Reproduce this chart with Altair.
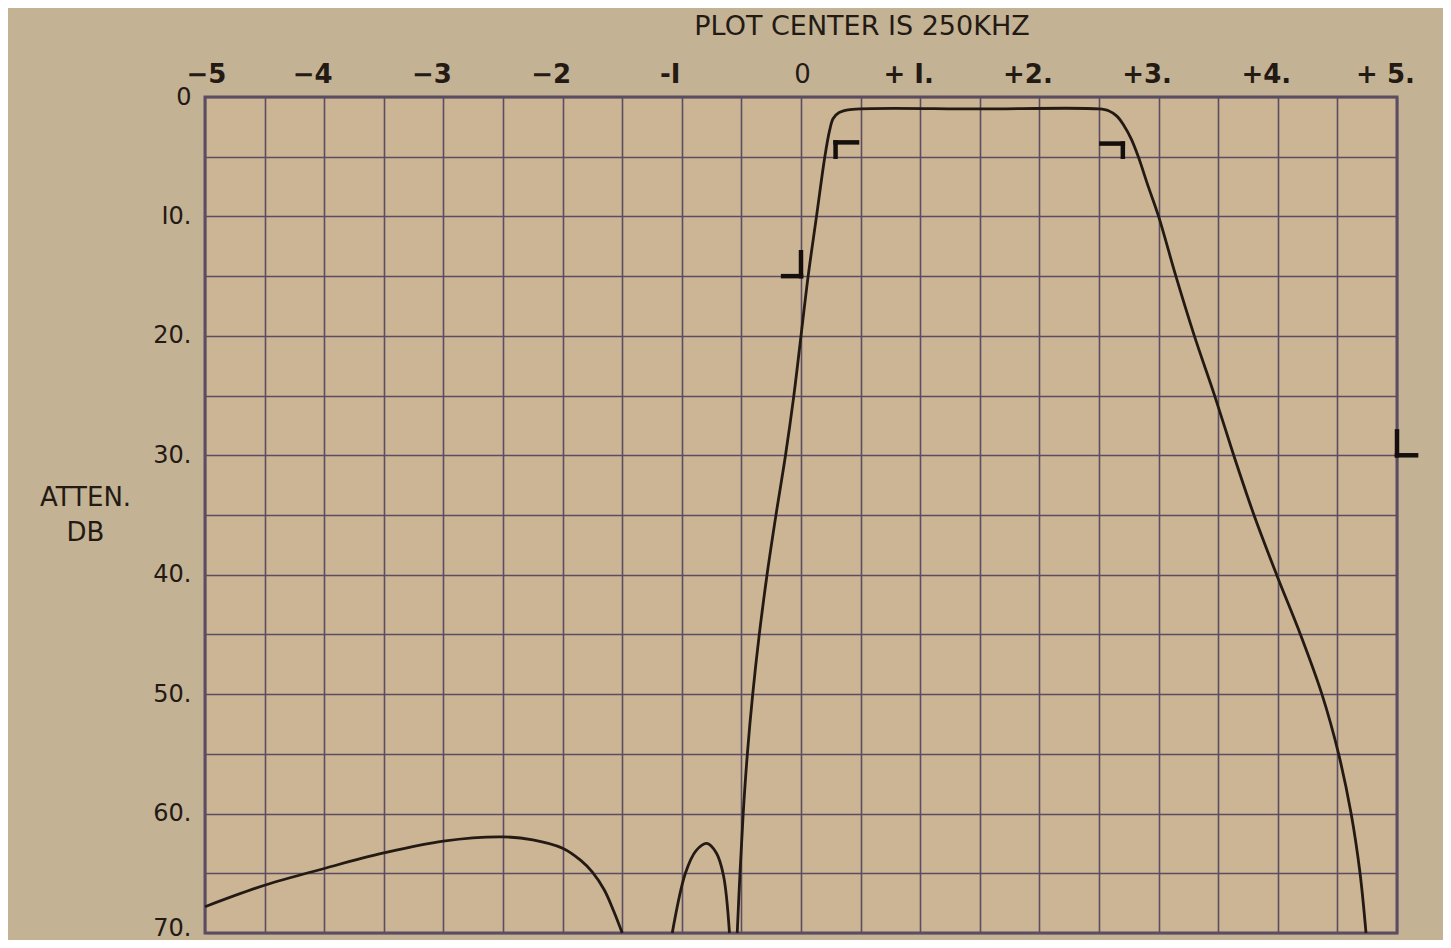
import altair as alt
import pandas as pd

# ---- data ----
# main passband response (offset kHz, attenuation dB)
main_x = [-0.535, -0.512, -0.485, -0.45, -0.405, -0.35, -0.285, -0.21, -0.13, -0.06, 0.0, 0.06,
          0.13, 0.20, 0.24, 0.27, 0.32, 0.41, 1.50, 2.50, 2.58, 2.65, 2.71, 2.77, 2.83, 2.91,
          3.00, 3.145, 3.30, 3.47, 3.63, 3.80, 3.99, 4.19, 4.37, 4.51, 4.615, 4.69, 4.74]
main_db = [70, 65, 60, 55, 50, 45, 40, 35, 30, 25, 20, 15,
           10, 5, 2.8, 1.8, 1.3, 1.05, 1.0, 1.0, 1.15, 1.6, 2.4, 3.5, 5.0, 7.4,
           10, 15, 20, 25, 30, 35, 40, 45, 50, 55, 60, 65, 70]

# far lower sidelobe
lobe1_x = [-5.0, -4.5, -4.0, -3.5, -3.0, -2.5, -2.25, -2.0, -1.85, -1.75, -1.65, -1.57, -1.5]
lobe1_db = [67.8, 66.0, 64.6, 63.3, 62.3, 61.95, 62.2, 62.9, 63.9, 64.9, 66.4, 68.2, 70]

# near lower sidelobe
lobe2_x = [-1.08, -0.97, -0.88, -0.79, -0.71, -0.65, -0.60]
lobe2_db = [70, 65, 63.1, 62.5, 63.3, 65.2, 70]

# specification marks (segments)
mk_x = [0.29, 0.29, 2.52, 2.70, 0.00, -0.15, 5.00, 5.00]
mk_x2 = [0.29, 0.47, 2.70, 2.70, 0.00, 0.00, 5.00, 5.16]
mk_y = [5.0, 3.8, 3.9, 3.9, 13.0, 15.0, 28.0, 30.0]
mk_y2 = [3.8, 3.8, 3.9, 5.0, 15.0, 15.0, 30.0, 30.0]

# axes
x_grid = [-5.0, -4.5, -4.0, -3.5, -3.0, -2.5, -2.0, -1.5, -1.0, -0.5, 0.0,
          0.5, 1.0, 1.5, 2.0, 2.5, 3.0, 3.5, 4.0, 4.5, 5.0]
x_label_vals = [-5, -4, -3, -2, -1, 0, 1, 2, 3, 4, 5]
x_label_text = ["\u22125", "\u22124", "\u22123", "\u22122", "-I", "0", "+ I.", "+2.", "+3.", "+4.", "+ 5."]
y_grid = [0, 5, 10, 15, 20, 25, 30, 35, 40, 45, 50, 55, 60, 65, 70]
y_label_vals = [0, 10, 20, 30, 40, 50, 60, 70]
y_label_text = ["0", "I0.", "20.", "30.", "40.", "50.", "60.", "70."]

title_text = "PLOT CENTER IS 250KHZ"
y_title = ["ATTEN.", "DB"]


def label_expr(vals, texts):
    expr = "''"
    for v, t in reversed(list(zip(vals, texts))):
        expr = f"(datum.value == {v} ? '{t}' : {expr})"
    return expr


rows = []
for seg, xs, ys in [("main", main_x, main_db), ("lobe1", lobe1_x, lobe1_db), ("lobe2", lobe2_x, lobe2_db)]:
    for i, (a, b) in enumerate(zip(xs, ys)):
        rows.append({"seg": seg, "i": i, "x": a, "db": b})
curve = pd.DataFrame(rows)
marks = pd.DataFrame({"x": mk_x, "x2": mk_x2, "y": mk_y, "y2": mk_y2})

INK = "#231a14"
GRID = "#5c4d62"
FONT = "DejaVu Sans"

xscale = alt.Scale(domain=[-5, 5], nice=False, zero=False)
yscale = alt.Scale(domain=[0, 70], reverse=True, nice=False, zero=False)

xaxis = alt.Axis(orient="top", values=x_grid, grid=True, ticks=False, domain=False,
                 labelExpr=label_expr(x_label_vals, x_label_text),
                 labelFont=FONT, labelFontSize=26,
                 labelFontWeight={"condition": {"test": "datum.value == 0", "value": "normal"}, "value": "bold"},
                 labelOffset={"condition": {"test": "datum.value == -5 || datum.value == 0", "value": 1}, "value": -12},
                 labelColor=INK, labelPadding=10, labelAngle=0, labelFlush=False,
                 gridColor=GRID, gridWidth=1.6, gridOpacity=1, title=None)

yaxis = alt.Axis(orient="left", values=y_grid, grid=True, ticks=False, domain=False,
                 labelExpr=label_expr(y_label_vals, y_label_text),
                 labelFont=FONT, labelFontSize=24, labelColor=INK, labelPadding=14,
                 labelFlush=False, labelBaseline="middle",
                 labelOffset={"condition": {"test": "datum.value == 70", "value": -5}, "value": 0},
                 gridColor=GRID, gridWidth=1.6, gridOpacity=1,
                 title=y_title, titleAngle=0, titleX=-120, titleY=400, titleAlign="center",
                 titleBaseline="middle", titleFont=FONT, titleFontSize=26, titleFontWeight="normal",
                 titleColor=INK, titleLineHeight=35)

lines = alt.Chart(curve).mark_line(color=INK, strokeWidth=2.8, interpolate="catmull-rom").encode(
    x=alt.X("x:Q", scale=xscale, axis=xaxis),
    y=alt.Y("db:Q", scale=yscale, axis=yaxis),
    detail="seg:N",
    order="i:Q",
)

rules = alt.Chart(marks).mark_rule(color="#140f0c", strokeWidth=4.5, strokeCap="square").encode(
    x=alt.X("x:Q", scale=xscale),
    x2="x2:Q",
    y=alt.Y("y:Q", scale=yscale),
    y2="y2:Q",
)

chart = alt.layer(lines, rules).properties(
    width=1192,
    height=836,
    autosize="none",
    padding={"left": 197, "top": 89, "right": 46, "bottom": 7},
    background="#c4b295",
    title=alt.TitleParams(title_text, font=FONT, fontSize=27, fontWeight="normal",
                          color=INK, anchor="middle", dx=61, offset=20),
).configure_view(
    stroke=GRID, strokeWidth=3, fill="#cbb594"
)

chart.save("out.html", embed_options={"renderer": "svg", "actions": False})
